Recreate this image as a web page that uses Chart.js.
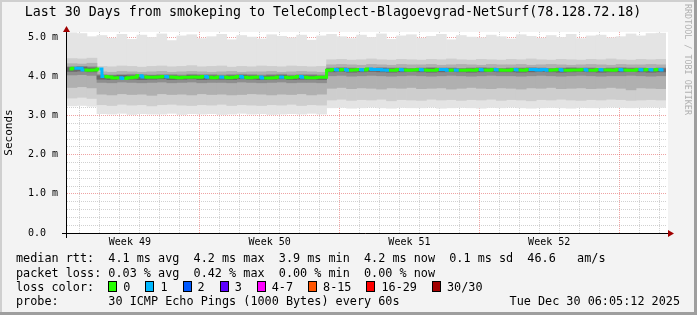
<!DOCTYPE html>
<html>
<head>
<meta charset="utf-8">
<title>smokeping - last 30 days</title>
<script src="https://cdn.jsdelivr.net/npm/chart.js@4.4.1/dist/chart.umd.min.js"></script>
<style>
  html, body { margin: 0; padding: 0; background: #f3f3f3; }
  canvas { display: block; }
</style>
</head>
<body>
<canvas id="smoke-chart" width="697" height="315"></canvas>
<script>
const titleText = "Last 30 Days from smokeping to TeleComplect-Blagoevgrad-NetSurf(78.128.72.18)";

// y axis labels, one per whole ms
const yLabels = ["0.0", "1.0 m", "2.0 m", "3.0 m", "4.0 m", "5.0 m"];

// x axis: days since start of the graph
const weekLabels = ["Week 49", "Week 50", "Week 51", "Week 52"];
const weekLabelDays = [3.15, 10.15, 17.15, 24.15];
const weekStartDays = [6.65, 13.65, 20.65, 27.65];
const firstMidnight = 0.65;

// median rtt in ms, 6h buckets (120)
const medianRtt = [
  4.19, 4.21, 4.21, 4.17, 4.16, 4.17, 4.19, 4.00, 3.99, 3.96,
  3.97, 3.95, 3.97, 3.98, 4.02, 3.99, 3.98, 3.98, 3.99, 4.00,
  3.99, 3.98, 3.97, 3.98, 3.98, 3.99, 3.98, 4.00, 3.98, 3.97,
  3.99, 3.98, 3.97, 3.98, 4.00, 3.98, 3.97, 3.98, 3.99, 3.96,
  3.96, 3.97, 3.99, 3.98, 3.97, 3.98, 4.00, 3.98, 3.97, 3.97,
  3.98, 3.98, 4.16, 4.18, 4.17, 4.18, 4.16, 4.17, 4.18, 4.17,
  4.19, 4.18, 4.18, 4.17, 4.16, 4.16, 4.18, 4.17, 4.16, 4.17,
  4.18, 4.17, 4.16, 4.16, 4.18, 4.18, 4.16, 4.17, 4.16, 4.16,
  4.17, 4.16, 4.18, 4.17, 4.16, 4.18, 4.17, 4.16, 4.16, 4.18,
  4.17, 4.16, 4.18, 4.18, 4.17, 4.18, 4.16, 4.17, 4.18, 4.16,
  4.16, 4.17, 4.17, 4.18, 4.16, 4.16, 4.18, 4.17, 4.17, 4.16,
  4.18, 4.17, 4.16, 4.16, 4.18, 4.17, 4.18, 4.17, 4.18, 4.17
];

// lost pings out of 30, same buckets
const lossCount = [
  0, 1, 1, 0, 0, 0, 1, 0, 0, 0,
  1, 0, 0, 0, 1, 0, 0, 0, 0, 1,
  0, 0, 0, 0, 0, 0, 0, 1, 0, 0,
  1, 0, 0, 0, 1, 0, 0, 0, 1, 0,
  0, 0, 1, 0, 0, 0, 1, 0, 0, 0,
  0, 0, 0, 1, 0, 1, 0, 0, 1, 0,
  1, 1, 1, 1, 0, 0, 1, 0, 0, 0,
  1, 0, 0, 0, 1, 1, 0, 1, 0, 0,
  0, 0, 1, 0, 0, 1, 0, 0, 0, 1,
  0, 0, 1, 1, 1, 1, 0, 0, 1, 0,
  0, 0, 0, 1, 0, 0, 1, 0, 0, 0,
  1, 0, 0, 0, 1, 0, 1, 0, 1, 0
];

// smoke, 12h buckets (60), outermost band first
const smokeHi1 = [
  5.12, 5.10, 5.02, 5.05, 4.98, 5.08, 4.95, 5.06, 5.00, 5.09,
  4.92, 5.04, 5.07, 4.97, 5.02, 5.08, 4.94, 5.05, 5.01, 4.96,
  5.07, 5.03, 4.99, 5.06, 4.93, 5.04, 5.08, 5.02, 4.97, 5.06,
  5.00, 5.09, 4.95, 5.04, 5.07, 4.98, 5.03, 5.08, 4.94, 5.05,
  5.01, 4.99, 5.06, 5.02, 4.96, 5.07, 5.03, 4.98, 5.05, 5.00,
  5.08, 4.97, 5.04, 5.06, 4.99, 5.02, 5.09, 5.04, 5.10, 5.11
];
const smokeLo1 = [
  3.25, 3.26, 3.24, 3.05, 3.04, 3.06, 3.03, 3.05, 3.04, 3.04,
  3.06, 3.03, 3.05, 3.04, 3.05, 3.03, 3.04, 3.06, 3.04, 3.05,
  3.03, 3.04, 3.05, 3.04, 3.06, 3.04, 3.20, 3.21, 3.19, 3.20,
  3.22, 3.20, 3.19, 3.21, 3.20, 3.20, 3.22, 3.19, 3.20, 3.21,
  3.20, 3.19, 3.21, 3.20, 3.22, 3.20, 3.19, 3.20, 3.21, 3.20,
  3.19, 3.21, 3.20, 3.20, 3.22, 3.21, 3.20, 3.21, 3.22, 3.21
];
const smokeHi2 = [
  4.46, 4.45, 4.47, 4.26, 4.25, 4.27, 4.26, 4.24, 4.26, 4.27,
  4.25, 4.26, 4.28, 4.25, 4.26, 4.27, 4.24, 4.26, 4.25, 4.27,
  4.26, 4.25, 4.27, 4.26, 4.25, 4.26, 4.43, 4.44, 4.42, 4.43,
  4.45, 4.43, 4.42, 4.44, 4.43, 4.42, 4.44, 4.43, 4.45, 4.43,
  4.42, 4.44, 4.43, 4.42, 4.44, 4.43, 4.45, 4.43, 4.42, 4.44,
  4.43, 4.42, 4.44, 4.43, 4.45, 4.43, 4.42, 4.44, 4.43, 4.44
];
const smokeLo2 = [
  3.45, 3.47, 3.44, 3.28, 3.26, 3.29, 3.27, 3.28, 3.25, 3.28,
  3.29, 3.27, 3.26, 3.28, 3.27, 3.29, 3.26, 3.28, 3.27, 3.26,
  3.28, 3.27, 3.29, 3.26, 3.28, 3.27, 3.40, 3.42, 3.39, 3.41,
  3.40, 3.42, 3.38, 3.41, 3.40, 3.39, 3.42, 3.40, 3.41, 3.39,
  3.41, 3.40, 3.42, 3.39, 3.41, 3.40, 3.38, 3.41, 3.40, 3.42,
  3.40, 3.39, 3.41, 3.40, 3.42, 3.41, 3.39, 3.40, 3.41, 3.40
];
const smokeHi3 = [
  4.33, 4.32, 4.34, 4.12, 4.11, 4.13, 4.12, 4.11, 4.12, 4.13,
  4.11, 4.12, 4.13, 4.12, 4.11, 4.12, 4.13, 4.11, 4.12, 4.12,
  4.13, 4.11, 4.12, 4.13, 4.12, 4.11, 4.30, 4.31, 4.30, 4.29,
  4.31, 4.30, 4.29, 4.31, 4.30, 4.30, 4.31, 4.29, 4.30, 4.31,
  4.30, 4.29, 4.31, 4.30, 4.30, 4.31, 4.29, 4.30, 4.31, 4.30,
  4.29, 4.30, 4.31, 4.30, 4.29, 4.31, 4.30, 4.30, 4.31, 4.30
];
const smokeLo3 = [
  3.72, 3.74, 3.71, 3.55, 3.53, 3.56, 3.54, 3.55, 3.52, 3.56,
  3.54, 3.55, 3.53, 3.56, 3.54, 3.55, 3.53, 3.54, 3.56, 3.55,
  3.53, 3.55, 3.54, 3.56, 3.53, 3.55, 3.70, 3.72, 3.69, 3.71,
  3.70, 3.68, 3.71, 3.70, 3.72, 3.69, 3.70, 3.71, 3.68, 3.70,
  3.72, 3.70, 3.69, 3.71, 3.70, 3.68, 3.71, 3.70, 3.72, 3.69,
  3.70, 3.71, 3.69, 3.70, 3.72, 3.70, 3.66, 3.71, 3.70, 3.69
];
const smokeHi4 = [
  4.25, 4.26, 4.25, 4.05, 4.04, 4.05, 4.06, 4.05, 4.04, 4.05,
  4.05, 4.04, 4.06, 4.05, 4.05, 4.04, 4.05, 4.06, 4.05, 4.04,
  4.05, 4.06, 4.04, 4.05, 4.05, 4.04, 4.22, 4.23, 4.22, 4.21,
  4.22, 4.23, 4.22, 4.22, 4.21, 4.22, 4.23, 4.22, 4.22, 4.21,
  4.22, 4.23, 4.22, 4.21, 4.22, 4.22, 4.23, 4.22, 4.21, 4.22,
  4.23, 4.22, 4.22, 4.21, 4.22, 4.23, 4.22, 4.22, 4.21, 4.22
];
const smokeLo4 = [
  4.04, 4.05, 4.03, 3.85, 3.84, 3.86, 3.85, 3.84, 3.85, 3.86,
  3.84, 3.85, 3.86, 3.84, 3.85, 3.85, 3.84, 3.86, 3.85, 3.84,
  3.85, 3.86, 3.84, 3.85, 3.85, 3.84, 4.02, 4.03, 4.01, 4.02,
  4.03, 4.02, 4.01, 4.02, 4.03, 4.02, 4.01, 4.02, 4.03, 4.02,
  4.01, 4.02, 4.03, 4.02, 4.02, 4.01, 4.02, 4.03, 4.02, 4.01,
  4.02, 4.03, 4.02, 4.01, 4.02, 4.02, 4.03, 4.02, 4.01, 4.02
];
const smokeHi5 = [
  4.23, 4.24, 4.22, 4.02, 4.02, 4.03, 4.02, 4.01, 4.02, 4.02,
  4.02, 4.01, 4.03, 4.02, 4.02, 4.01, 4.02, 4.03, 4.02, 4.01,
  4.02, 4.03, 4.01, 4.02, 4.02, 4.01, 4.20, 4.21, 4.20, 4.19,
  4.20, 4.21, 4.20, 4.20, 4.19, 4.20, 4.21, 4.20, 4.20, 4.19,
  4.20, 4.21, 4.20, 4.19, 4.20, 4.20, 4.21, 4.20, 4.19, 4.20,
  4.21, 4.20, 4.20, 4.19, 4.20, 4.21, 4.20, 4.20, 4.19, 4.20
];
const smokeLo5 = [
  4.13, 4.14, 4.12, 3.93, 3.92, 3.94, 3.93, 3.92, 3.93, 3.94,
  3.92, 3.93, 3.94, 3.92, 3.93, 3.93, 3.92, 3.94, 3.93, 3.92,
  3.93, 3.94, 3.92, 3.93, 3.93, 3.92, 4.12, 4.13, 4.11, 4.12,
  4.13, 4.12, 4.11, 4.12, 4.13, 4.12, 4.11, 4.12, 4.13, 4.12,
  4.11, 4.12, 4.13, 4.12, 4.12, 4.11, 4.12, 4.13, 4.12, 4.11,
  4.12, 4.13, 4.12, 4.11, 4.12, 4.12, 4.13, 4.12, 4.11, 4.12
];

const lossLabels = ["0", "1", "2", "3", "4-7", "8-15", "16-29", "30/30"];
const lossColors = ["#26ff00", "#00b8ff", "#0059ff", "#5e00ff", "#ff00ff", "#ff5500", "#ff0000", "#a10000"];

const legendLines = [
  "median rtt:  4.1 ms avg  4.2 ms max  3.9 ms min  4.2 ms now  0.1 ms sd  46.6   am/s",
  "packet loss: 0.03 % avg  0.42 % max  0.00 % min  0.00 % now"
];
const probeText = "probe:       30 ICMP Echo Pings (1000 Bytes) every 60s";
const stampText = "Tue Dec 30 06:05:12 2025";
const watermark = "RRDTOOL / TOBI OETIKER";

const MONO = '"DejaVu Sans Mono", "Liberation Mono", monospace';
Chart.defaults.font.family = MONO;
Chart.defaults.color = "#000";

function lossBucket(n) {
  if (n <= 3) return n;
  if (n <= 7) return 4;
  if (n <= 15) return 5;
  if (n <= 29) return 6;
  return 7;
}

function near(v, list) {
  return list.some(d => Math.abs(d - v) < 1e-6);
}

// 12h smoke band as floating bars
function band(lo, hi, color, order) {
  return {
    type: "bar",
    data: lo.map((v, j) => ({ x: (j + 0.5) * 0.5, y: [v, hi[j]] })),
    backgroundColor: color,
    borderWidth: 0,
    grouped: false,
    barPercentage: 1,
    categoryPercentage: 1,
    order: order
  };
}

const rrdDecor = {
  id: "rrdDecor",
  beforeDraw(chart) {
    const { ctx, width, height, chartArea: a } = chart;
    ctx.save();
    ctx.fillStyle = "#f3f3f3";
    ctx.fillRect(0, 0, width, height);
    ctx.fillStyle = "#cfcfcf";
    ctx.fillRect(0, 0, width, 2);
    ctx.fillRect(0, 0, 2, height);
    ctx.fillStyle = "#9e9e9e";
    ctx.fillRect(0, height - 3, width, 3);
    ctx.fillRect(width - 3, 0, 3, height);
    ctx.fillStyle = "#fff";
    ctx.fillRect(a.left, a.top, a.right - a.left + 2, a.bottom - a.top);
    ctx.restore();
  },
  afterDraw(chart) {
    const { ctx, chartArea: a } = chart;
    const ax = Math.round(a.left) - 0.5;
    const ay = Math.round(a.bottom) + 0.5;
    ctx.save();
    // axes
    ctx.strokeStyle = "#000";
    ctx.lineWidth = 1;
    ctx.beginPath();
    ctx.moveTo(a.left - 5, ay);
    ctx.lineTo(a.right + 3, ay);
    ctx.moveTo(ax, a.top - 2);
    ctx.lineTo(ax, a.bottom + 5);
    ctx.stroke();
    // arrow heads
    ctx.fillStyle = "#a00000";
    ctx.beginPath();
    ctx.moveTo(ax, a.top - 6);
    ctx.lineTo(ax - 3.5, a.top);
    ctx.lineTo(ax + 3.5, a.top);
    ctx.closePath();
    ctx.fill();
    ctx.beginPath();
    ctx.moveTo(a.right + 8, ay);
    ctx.lineTo(a.right + 2, ay - 3.5);
    ctx.lineTo(a.right + 2, ay + 3.5);
    ctx.closePath();
    ctx.fill();

    // watermark on the right edge
    ctx.save();
    ctx.translate(chart.width - 10, 4);
    ctx.rotate(Math.PI / 2);
    ctx.font = "8.4px " + MONO;
    ctx.fillStyle = "#b0b0b0";
    ctx.textBaseline = "middle";
    ctx.fillText(watermark, 0, 0);
    ctx.restore();

    // legend block
    ctx.font = "11.8px " + MONO;
    ctx.fillStyle = "#000";
    ctx.textBaseline = "middle";
    ctx.textAlign = "left";
    const cw = ctx.measureText("0").width;
    const lx = 16;
    ctx.fillText(legendLines[0], lx, 259);
    ctx.fillText(legendLines[1], lx, 273.5);
    ctx.fillText("loss color:", lx, 287.5);
    let bx = lx + 13 * cw;
    lossLabels.forEach((lab, k) => {
      const x0 = Math.round(bx);
      ctx.fillStyle = lossColors[k];
      ctx.fillRect(x0, 281, 9, 11);
      ctx.strokeStyle = "#000";
      ctx.strokeRect(x0 + 0.5, 281.5, 8, 10);
      ctx.fillStyle = "#000";
      ctx.fillText(lab, bx + 15, 287.5);
      bx += 15 + lab.length * cw + 15;
    });
    ctx.fillText(probeText, lx, 302);
    ctx.textAlign = "right";
    ctx.fillText(stampText, 680, 302);
    ctx.restore();
  }
};

const ctx = document.getElementById("smoke-chart").getContext("2d");

new Chart(ctx, {
  type: "bar",
  data: {
    datasets: [
      {
        type: "line",
        data: medianRtt.map((v, i) => ({ x: (i + 0.5) * 0.25, y: v })),
        borderWidth: 3,
        pointRadius: 0,
        stepped: "middle",
        borderColor: lossColors[0],
        segment: {
          borderColor: c => lossColors[lossBucket(lossCount[c.p0DataIndex])]
        },
        order: 0
      },
      band(smokeLo5, smokeHi5, "#6a6a6a", 1),
      band(smokeLo4, smokeHi4, "#8e8e8e", 2),
      band(smokeLo3, smokeHi3, "#b0b0b0", 3),
      band(smokeLo2, smokeHi2, "#cecece", 4),
      band(smokeLo1, smokeHi1, "#e4e4e4", 5)
    ]
  },
  options: {
    responsive: false,
    animation: false,
    events: [],
    devicePixelRatio: 1,
    layout: { padding: { left: 0, right: 31, top: 0, bottom: 0 } },
    plugins: {
      legend: { display: false },
      tooltip: { enabled: false },
      title: {
        display: true,
        text: titleText,
        font: { size: 13.3, lineHeight: 1.2, weight: "normal" },
        color: "#000",
        padding: { top: 5, bottom: 11 }
      }
    },
    scales: {
      x: {
        type: "linear",
        min: 0,
        max: 30,
        offset: false,
        z: 1,
        afterFit: s => { s.height = 82; },
        afterBuildTicks: s => {
          const t = [];
          for (let k = 0; k < 60; k++) t.push({ value: 0.15 + k * 0.5 });
          s.ticks = t;
        },
        ticks: {
          autoSkip: false,
          maxRotation: 0,
          minRotation: 0,
          padding: 3,
          font: { size: 10 },
          color: "#000",
          callback: v => {
            const k = weekLabelDays.findIndex(d => Math.abs(d - v) < 1e-6);
            return k >= 0 ? weekLabels[k] : "";
          }
        },
        grid: {
          offset: false,
          drawTicks: false,
          lineWidth: 1,
          color: c => {
            const v = c.tick.value;
            if (near(v, weekStartDays)) return "rgba(220,50,50,0.45)";
            const d = v - firstMidnight;
            if (Math.abs(d - Math.round(d)) < 1e-6) return "rgba(140,140,140,0.4)";
            return "rgba(0,0,0,0)";
          }
        },
        border: { display: false, dash: [1, 1] }
      },
      y: {
        min: 0,
        max: 5.14,
        z: 1,
        afterFit: s => { s.width = 67; },
        afterBuildTicks: s => {
          const t = [];
          for (let k = 0; k <= 25; k++) t.push({ value: k * 0.2 });
          s.ticks = t;
        },
        ticks: {
          autoSkip: false,
          padding: 9,
          font: { size: 10 },
          color: "#000",
          callback: v => {
            const r = Math.round(v);
            if (Math.abs(v - r) > 1e-6) return "";
            return (yLabels[r] + "    ").slice(0, 5);
          }
        },
        title: {
          display: true,
          text: "Seconds",
          font: { size: 11 },
          color: "#000",
          padding: { top: 3, bottom: 0 }
        },
        grid: {
          drawTicks: false,
          lineWidth: 1,
          color: c => {
            const v = c.tick.value;
            return Math.abs(v - Math.round(v)) < 1e-6 ? "rgba(220,50,50,0.45)" : "rgba(140,140,140,0.4)";
          }
        },
        border: { display: false, dash: [1, 1] }
      }
    }
  },
  plugins: [rrdDecor]
});
</script>
</body>
</html>
